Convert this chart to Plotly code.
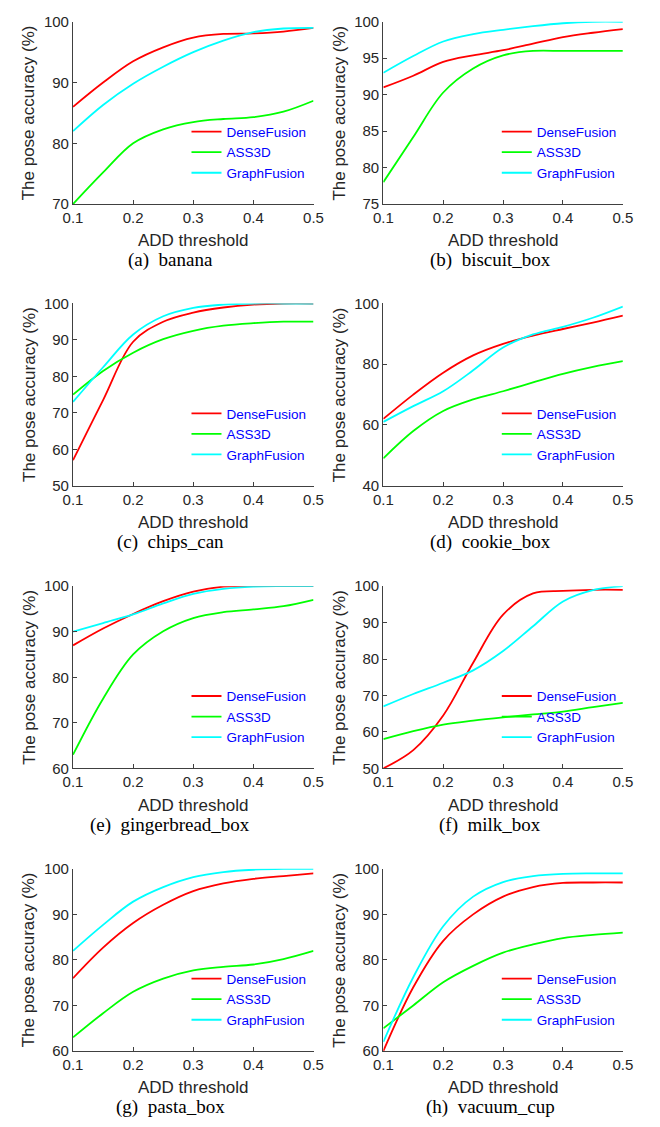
import plotly.graph_objects as go

# ---------------- data ----------------
thresholds = [0.1, 0.15, 0.2, 0.25, 0.3, 0.35, 0.4, 0.45, 0.5]
x_ticks = [0.1, 0.2, 0.3, 0.4, 0.5]
methods = ["DenseFusion", "ASS3D", "GraphFusion"]
objects = ["banana", "biscuit_box", "chips_can", "cookie_box",
           "gingerbread_box", "milk_box", "pasta_box", "vacuum_cup"]
panel_letters = ["a", "b", "c", "d", "e", "f", "g", "h"]

banana_dense = [86, 90, 93.5, 95.8, 97.4, 98, 98.1, 98.4, 99]
banana_ass3d = [70, 75.2, 80, 82.3, 83.5, 84, 84.3, 85.2, 87]
banana_graph = [82, 86.3, 89.8, 92.6, 95, 96.9, 98.3, 98.9, 99]

biscuit_dense = [91, 92.6, 94.5, 95.4, 96.1, 97, 97.9, 98.5, 99]
biscuit_ass3d = [78, 84.2, 90.3, 93.6, 95.4, 96, 96, 96, 96]
biscuit_graph = [93, 95.3, 97.3, 98.3, 98.9, 99.4, 99.8, 100, 100]

chips_dense = [57, 73.5, 89.5, 95, 97.5, 98.9, 99.7, 100, 100]
chips_ass3d = [75, 81.5, 86.5, 90.2, 92.5, 93.9, 94.6, 95, 95]
chips_graph = [73, 82.5, 91.5, 96.5, 98.8, 99.7, 100, 100, 100]

cookie_dense = [62, 70, 77.2, 82.9, 86.7, 89.4, 91.6, 93.7, 96]
cookie_ass3d = [49, 58, 64.6, 68.4, 71.1, 74, 76.8, 79.1, 81]
cookie_graph = [61, 66.2, 71.1, 78, 85.5, 89.8, 92.3, 95.3, 99]

ginger_dense = [87, 90.7, 93.9, 96.7, 98.8, 99.9, 100, 100, 100]
ginger_ass3d = [63, 75.3, 85, 90.1, 93, 94.3, 94.9, 95.6, 97]
ginger_graph = [90, 91.9, 93.8, 96.2, 98.3, 99.4, 99.9, 100, 100]

milk_dense = [50, 55, 64.5, 79, 92.2, 98, 98.7, 99, 99]
milk_ass3d = [58, 60.2, 62, 63.1, 64, 64.8, 65.6, 66.8, 68]
milk_graph = [67, 70.4, 73.5, 76.9, 82.2, 89, 95.8, 98.9, 100]

pasta_dense = [76, 82.7, 88.1, 92.1, 95.1, 96.8, 97.8, 98.4, 99]
pasta_ass3d = [63, 68.3, 73, 75.9, 77.7, 78.5, 79, 80.2, 82]
pasta_graph = [82, 87.7, 92.8, 96, 98.2, 99.3, 99.8, 100, 100]

vacuum_dense = [60, 74, 84.2, 90, 93.9, 96, 96.9, 97, 97]
vacuum_ass3d = [65, 70, 75.1, 78.7, 81.6, 83.4, 84.8, 85.5, 86]
vacuum_graph = [62, 76.2, 87.4, 93.9, 97.1, 98.4, 98.9, 99, 99]

panel_series = [
    [banana_dense, banana_ass3d, banana_graph],
    [biscuit_dense, biscuit_ass3d, biscuit_graph],
    [chips_dense, chips_ass3d, chips_graph],
    [cookie_dense, cookie_ass3d, cookie_graph],
    [ginger_dense, ginger_ass3d, ginger_graph],
    [milk_dense, milk_ass3d, milk_graph],
    [pasta_dense, pasta_ass3d, pasta_graph],
    [vacuum_dense, vacuum_ass3d, vacuum_graph],
]
y_ranges = [[70, 100], [75, 100], [50, 100], [40, 100],
            [60, 100], [50, 100], [60, 100], [60, 100]]
y_dticks = [10, 5, 10, 20, 10, 10, 10, 10]

# ---------------- layout geometry (pixels) ----------------
W, H = 660, 1127
col_left = [65, 385]
col_right = [313, 632]
col_center = [165, 495]
ytitle_x = [20, 340]
row_top = [13, 299, 586, 873]
plot_h = 185

line_colors = ["#ff0000", "#00ff00", "#00ffff"]
axis_color = "#262626"
axis_line_color = "#404040"
sans = "Liberation Sans, Arial, sans-serif"
serif = "Liberation Serif, Times New Roman, serif"

fig = go.Figure()
annotations = []
layout = {}

for i in range(8):
    r, c = divmod(i, 2)
    k = "" if i == 0 else str(i + 1)
    x0, x1 = col_left[c], col_right[c]
    top = row_top[r]
    bot = top + plot_h
    xd = [x0 / W, x1 / W]
    yd = [1 - bot / H, 1 - top / H]
    layout["xaxis" + k] = dict(
        domain=xd, anchor="y" + k, range=[0.1, 0.5],
        tickvals=x_ticks, ticktext=[f"{v:.1f}" for v in x_ticks],
        showline=True, linecolor=axis_line_color, linewidth=1.2,
        ticks="inside", ticklen=4, tickcolor=axis_line_color,
        showgrid=False, zeroline=False,
        tickfont=dict(family=sans, size=15, color=axis_color),
    )
    layout["yaxis" + k] = dict(
        domain=yd, anchor="x" + k, range=y_ranges[i],
        dtick=y_dticks[i], tick0=0,
        showline=True, linecolor=axis_line_color, linewidth=1.2,
        ticks="inside", ticklen=4, tickcolor=axis_line_color,
        showgrid=False, zeroline=False,
        tickfont=dict(family=sans, size=15, color=axis_color),
    )
    lg = "legend" + k
    layout[lg] = dict(
        x=(x0 + 117) / W, xanchor="left",
        y=1 - (top + 96) / H, yanchor="top",
        bgcolor="rgba(0,0,0,0)", borderwidth=0,
        font=dict(family=sans, size=13.5, color="#0000ff"),
        itemwidth=30, tracegroupgap=0,
    )
    for j in range(3):
        fig.add_trace(go.Scatter(
            x=thresholds, y=panel_series[i][j], mode="lines",
            name=methods[j], legend=lg,
            line=dict(color=line_colors[j], width=1.8, shape="spline", smoothing=1.0),
            xaxis="x" + k, yaxis="y" + k, cliponaxis=False,
        ))
    # y-axis title
    annotations.append(dict(
        text="The pose accuracy (%)", textangle=-90,
        x=ytitle_x[c] / W, y=1 - (top + plot_h / 2) / H,
        xref="paper", yref="paper", showarrow=False,
        xanchor="center", yanchor="middle",
        font=dict(family=sans, size=17, color=axis_color),
    ))
    # x-axis title
    annotations.append(dict(
        text="ADD threshold",
        x=((x0 + x1) / 2) / W, y=1 - (bot + 37.5) / H,
        xref="paper", yref="paper", showarrow=False,
        xanchor="center", yanchor="middle",
        font=dict(family=sans, size=17, color=axis_color),
    ))
    # sub-caption
    annotations.append(dict(
        text=f"({panel_letters[i]})\u00a0\u00a0{objects[i]}",
        x=col_center[c] / W, y=1 - (bot + 57) / H,
        xref="paper", yref="paper", showarrow=False,
        xanchor="center", yanchor="middle",
        font=dict(family=serif, size=19, color="#000000"),
    ))

fig.update_layout(
    width=W, height=H,
    margin=dict(l=0, r=0, t=0, b=0),
    paper_bgcolor="white", plot_bgcolor="white",
    showlegend=True,
    annotations=annotations,
    **layout,
)

fig.write_html(
    "out.html",
    config={"displayModeBar": False},
    post_script="document.body.style.margin='0';document.body.style.overflow='hidden';",
)
